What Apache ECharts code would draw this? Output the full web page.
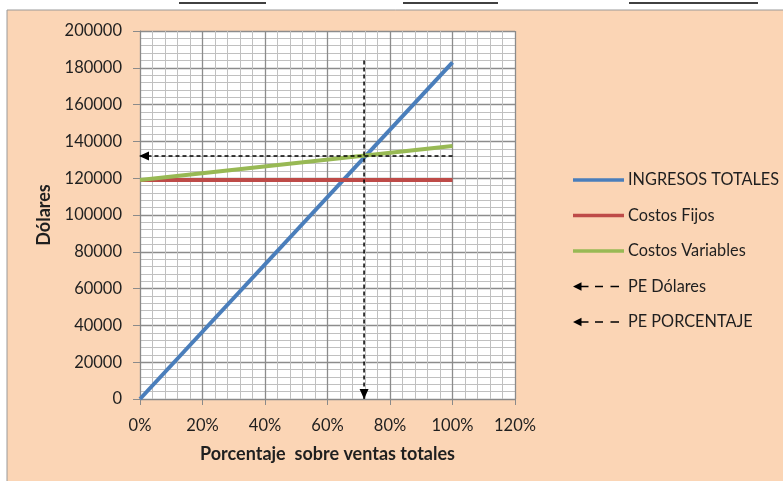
<!DOCTYPE html>
<html>
<head>
<meta charset="utf-8">
<script src="https://cdn.jsdelivr.net/npm/echarts@6/dist/echarts.min.js"></script>
<style>
html,body{margin:0;padding:0;background:#fff;}
#c{width:783px;height:481px;}
</style>
</head>
<body>
<div id="c"></div>
<script>
// ---- data ----
const xPct = [0, 100];
const ingresosTotales = [0, 183000];
const costosFijos = [119000, 119000];
const costosVariables = [119000, 137500];
const peDolaresX = [100, 0];
const peDolaresY = [132000, 132000];
const pePorcentajeX = [71.7, 71.7];
const pePorcentajeY = [184000, 0];
const seriesNames = ['INGRESOS TOTALES', 'Costos Fijos', 'Costos Variables', 'PE Dólares', 'PE PORCENTAJE'];
const xAxisTitle = 'Porcentaje  sobre ventas totales';
const yAxisTitle = 'Dólares';

const FONT = 'Lato';
const TXT = '#1f1f1f';

function pairs(xs, ys) { return xs.map((x, i) => [x, ys[i]]); }

function arrowData(xs, ys, rot, offset) {
  return xs.map((x, i) => {
    const last = i === xs.length - 1;
    return {
      value: [x, ys[i]],
      symbol: last ? 'triangle' : 'none',
      symbolSize: last ? [9, 10] : 0,
      symbolRotate: rot,
      symbolOffset: offset
    };
  });
}

const arrowIcon = 'path://M0,5 L8.5,0.8 L8.5,9.2 Z M8,4.2 L15.5,4.2 L15.5,5.8 L8,5.8 Z M22,4.2 L30,4.2 L30,5.8 L22,5.8 Z M37.5,4.2 L46,4.2 L46,5.8 L37.5,5.8 Z M51,0 L51,0.01 L50.99,0.01 Z M51,10 L51,9.99 L50.99,9.99 Z';
const lineIcon = 'path://M0,0 L51,0 L51,3.5 L0,3.5 Z';

const chart = echarts.init(document.getElementById('c'), null, {renderer: 'canvas'});
const solid = (name, data, color) => ({
  name, type: 'line', data, symbol: 'none', showSymbol: false,
  lineStyle: {color, width: 4}, itemStyle: {color},
  emphasis: {disabled: true}, silent: true, z: 3
});
const dashed = (name, data) => ({
  name, type: 'line', data, showSymbol: true,
  lineStyle: {color: '#000', width: 1.5, type: [4, 3]}, itemStyle: {color: '#000'},
  emphasis: {disabled: true}, silent: true, z: 4
});

chart.setOption({
  animation: false,
  backgroundColor: '#ffffff',
  graphic: [
    {type: 'rect', shape: {x: 7, y: 10, width: 790, height: 480}, style: {fill: '#FBD5B5', stroke: '#9a9a9a', lineWidth: 1}, z: -10},
    {type: 'line', shape: {x1: 179, y1: 3, x2: 266, y2: 3}, style: {stroke: '#000', lineWidth: 1.5}},
    {type: 'line', shape: {x1: 403, y1: 3, x2: 498, y2: 3}, style: {stroke: '#000', lineWidth: 1.5}},
    {type: 'line', shape: {x1: 629, y1: 3, x2: 758, y2: 3}, style: {stroke: '#000', lineWidth: 1.5}}
  ],
  grid: {left: 140, right: 268, top: 31, bottom: 82, show: true, backgroundColor: '#ffffff', borderWidth: 0},
  xAxis: {
    type: 'value', min: 0, max: 120, interval: 20,
    name: xAxisTitle, nameLocation: 'middle', nameGap: 46,
    nameTextStyle: {fontFamily: FONT, fontWeight: 'bold', fontSize: 18, color: TXT},
    axisLine: {show: true, lineStyle: {color: '#8a8a8a', width: 1}},
    axisTick: {show: true, length: 6, lineStyle: {color: '#8a8a8a'}},
    axisLabel: {formatter: '{value}%', fontFamily: FONT, fontSize: 16.5, color: TXT, margin: 18},
    splitLine: {show: true, lineStyle: {color: '#8c8c8c', width: 1.3}},
    minorTick: {show: false, splitNumber: 5},
    minorSplitLine: {show: true, lineStyle: {color: '#c0c0c0', width: 1}}
  },
  yAxis: {
    type: 'value', min: 0, max: 200000, interval: 20000,
    name: yAxisTitle, nameLocation: 'middle', nameGap: 87, nameRotate: 90,
    nameTextStyle: {fontFamily: FONT, fontWeight: 'bold', fontSize: 18, color: TXT},
    axisLine: {show: true, lineStyle: {color: '#8a8a8a', width: 1}},
    axisTick: {show: true, length: 7, lineStyle: {color: '#8a8a8a'}},
    axisLabel: {formatter: (v) => String(v), fontFamily: FONT, fontSize: 16.5, color: TXT, margin: 18},
    splitLine: {show: true, lineStyle: {color: '#8c8c8c', width: 1.3}},
    minorTick: {show: false, splitNumber: 5},
    minorSplitLine: {show: true, lineStyle: {color: '#c0c0c0', width: 1}}
  },
  legend: {
    orient: 'vertical', left: 568, top: 166, itemGap: 17.5,
    itemWidth: 51, itemHeight: 10,
    selectedMode: false,
    textStyle: {fontFamily: FONT, fontSize: 16.3, color: TXT, lineHeight: 18, padding: [0, 0, 0, -1]},
    data: [
      {name: seriesNames[0], icon: lineIcon, itemStyle: {color: '#4A7EBB'}},
      {name: seriesNames[1], icon: lineIcon, itemStyle: {color: '#BE4B48'}},
      {name: seriesNames[2], icon: lineIcon, itemStyle: {color: '#98B954'}},
      {name: seriesNames[3], icon: arrowIcon, itemStyle: {color: '#000'}},
      {name: seriesNames[4], icon: arrowIcon, itemStyle: {color: '#000'}}
    ]
  },
  series: [
    solid(seriesNames[0], pairs(xPct, ingresosTotales), '#4A7EBB'),
    solid(seriesNames[1], pairs(xPct, costosFijos), '#BE4B48'),
    solid(seriesNames[2], pairs(xPct, costosVariables), '#98B954'),
    dashed(seriesNames[3], arrowData(peDolaresX, peDolaresY, 90, [4, 0])),
    dashed(seriesNames[4], arrowData(pePorcentajeX, pePorcentajeY, 180, [0, -5]))
  ]
});
</script>
</body>
</html>
